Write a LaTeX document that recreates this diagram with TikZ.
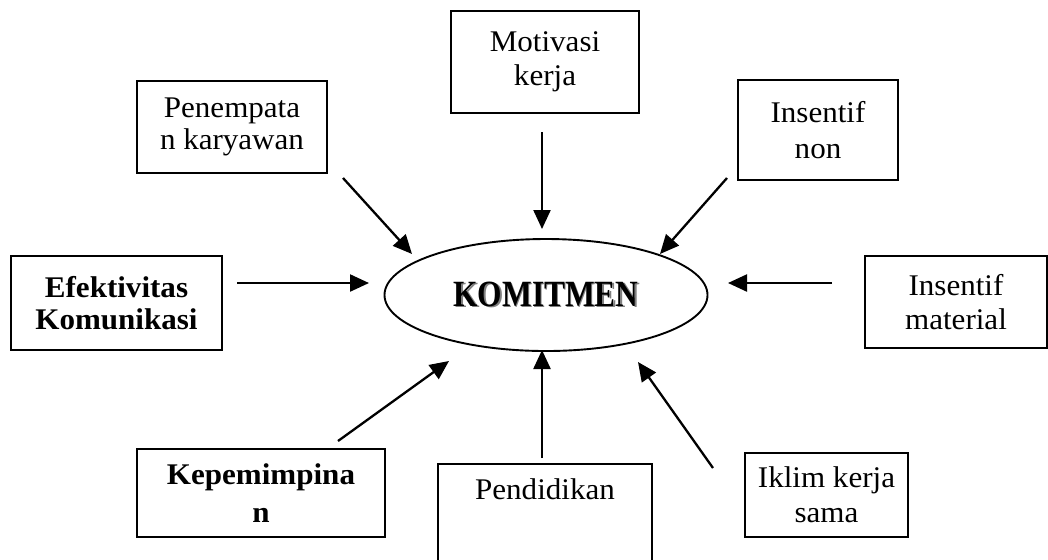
\documentclass[tikz,border=0pt]{standalone}
\usepackage{fontspec}
\setmainfont[FakeStretch=1.035]{Liberation Serif}
\newfontfamily\komfont[FakeStretch=0.85]{Liberation Serif}
\usetikzlibrary{positioning,arrows.meta,shapes.geometric}

% engraved look of the centre word
\newcommand\shadowword[1]{\rlap{\kern0.8pt\raisebox{-0.8pt}{\color{gray}#1}}#1}

\begin{document}
\begin{tikzpicture}[x=0.5pt, y=-0.5pt,
  font=\fontsize{15}{16}\selectfont,
  box/.style={draw, line width=0.95pt, align=center, inner sep=0pt},
  bbox/.style={box, font=\fontsize{15}{16}\selectfont\bfseries},
  arr/.style={-{Triangle[length=9.5pt, width=8.5pt]}, line width=1.15pt}]
\useasboundingbox (0,0) rectangle (1048,559);
\clip (0,0) rectangle (1048,559);

\node[ellipse, draw, line width=0.95pt, minimum width=161.5pt, minimum height=56pt] (kom) at (546,295)
  {\komfont\bfseries\fontsize{18.5}{18.5}\selectfont\shadowword{KOMITMEN}};

\node[box, minimum width=94pt, minimum height=51pt] (mot) at (545,62) {Motivasi\\[1pt]kerja};
\node[box, minimum width=95pt, minimum height=46pt] (pen) at (232,127) {Penempata\\n karyawan};
\node[box, minimum width=80pt, minimum height=50pt] (ins) at (818,130) {Insentif\\[2pt]non};
\node[bbox, minimum width=105.5pt, minimum height=47pt] (efk) at (116.5,303) {Efektivitas\\Komunikasi};
\node[box, minimum width=91pt, minimum height=46pt] (mat) at (956,302) {Insentif\\[1pt]material};
\node[bbox, minimum width=124pt, minimum height=44pt] (kep) at (261,493) {Kepemimpina\\[3pt]n};
\node[box, anchor=north, minimum width=107pt, text height=18pt, text depth=60pt] (pend) at (545,463) {Pendidikan};
\node[box, minimum width=81.5pt, minimum height=42pt] (ikl) at (826.5,495) {Iklim kerja\\[1.5pt]sama};

% arrow ends
\coordinate (pen-a) at (343,178);  \coordinate (pen-b) at (412,254);
\coordinate (mot-a) at (542,132);  \coordinate (mot-b) at (542,229);
\coordinate (ins-a) at (727,178);  \coordinate (ins-b) at (660,254);
\coordinate (efk-a) at (237,283);  \coordinate (efk-b) at (369,283);
\coordinate (mat-a) at (832,283);  \coordinate (mat-b) at (728,283);
\coordinate (kep-a) at (338,441);  \coordinate (kep-b) at (449,361);
\coordinate (pend-a) at (542,458); \coordinate (pend-b) at (542,350);
\coordinate (ikl-a) at (713,468);  \coordinate (ikl-b) at (638,362);

\foreach \n in {pen,mot,ins,efk,mat,kep,pend,ikl}
  \draw[arr] (\n-a) -- (\n-b);
\end{tikzpicture}
\end{document}
